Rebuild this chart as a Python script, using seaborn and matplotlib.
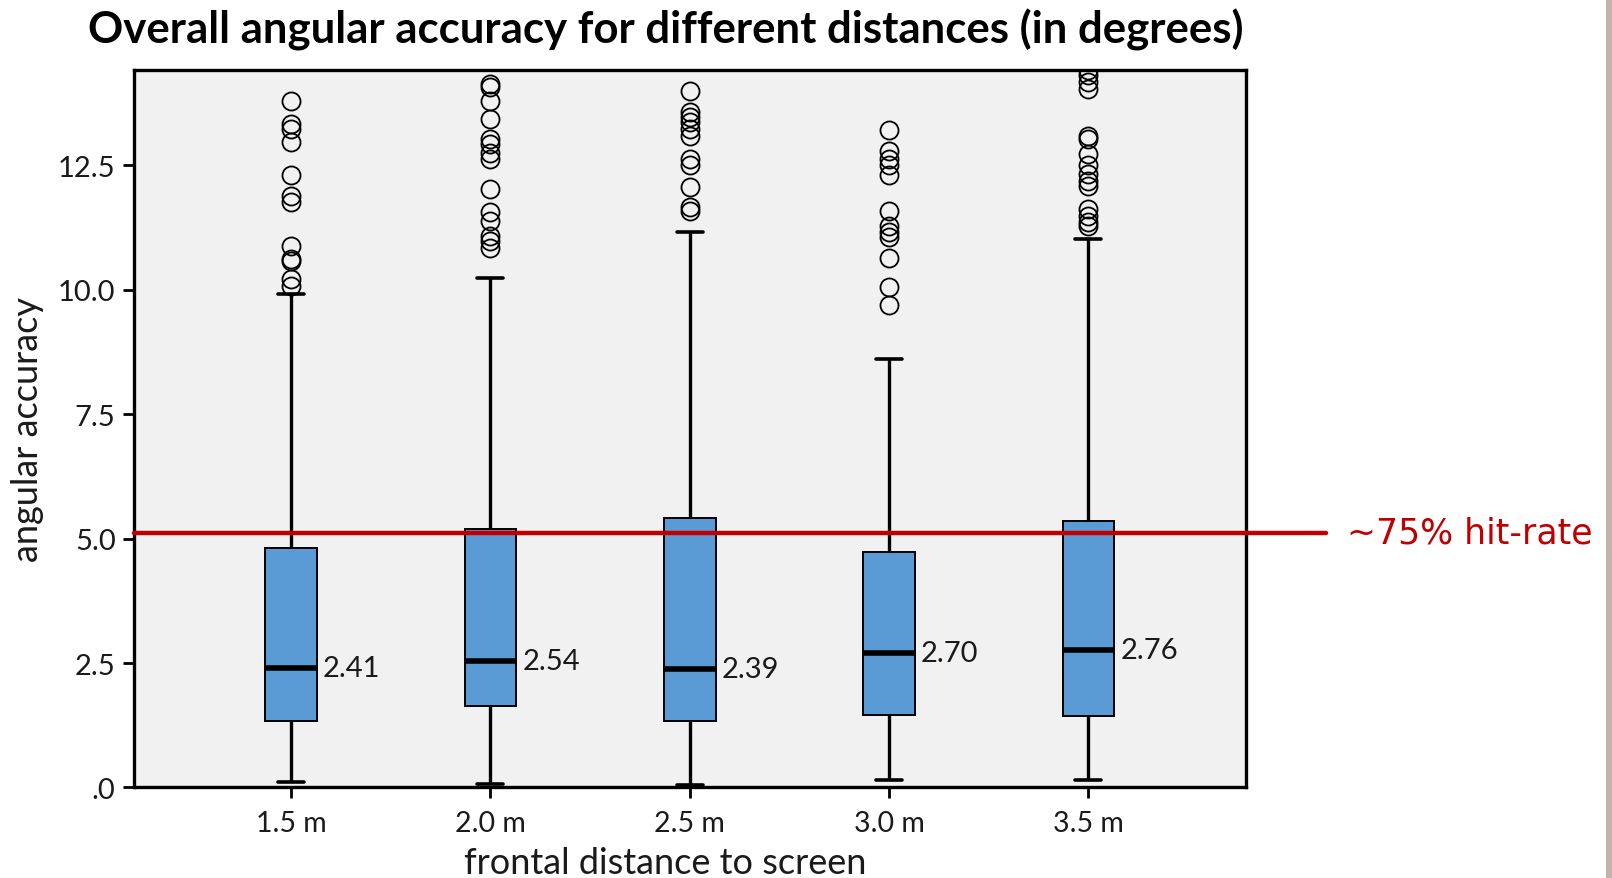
import numpy as np
import pandas as pd
import matplotlib
matplotlib.use("Agg")
import matplotlib.pyplot as plt
from matplotlib.ticker import FuncFormatter
from matplotlib.patches import Rectangle
import seaborn as sns

# ---- data ----
categories = ["1.5 m", "2.0 m", "2.5 m", "3.0 m", "3.5 m"]
whisker_low = [0.10, 0.07, 0.05, 0.14, 0.14]
q1 = [1.34, 1.64, 1.33, 1.46, 1.43]
median = [2.41, 2.54, 2.39, 2.70, 2.76]
q3 = [4.81, 5.19, 5.41, 4.74, 5.36]
whisker_high = [9.92, 10.23, 11.17, 8.61, 11.02]
outliers_15 = [13.79, 13.33, 13.23, 12.97, 12.30, 11.89, 11.76, 10.89, 10.62, 10.59, 10.22, 10.08]
outliers_20 = [14.14, 14.07, 13.80, 13.43, 13.03, 12.93, 12.76, 12.63, 12.03, 11.56, 11.39, 11.09, 10.99, 10.84]
outliers_25 = [13.99, 13.57, 13.47, 13.37, 13.23, 13.10, 12.64, 12.51, 12.06, 11.66, 11.58]
outliers_30 = [13.21, 12.80, 12.63, 12.50, 12.30, 11.59, 11.29, 11.16, 11.06, 10.64, 10.05, 9.70]
outliers_35 = [14.41, 14.31, 14.17, 14.04, 13.09, 13.03, 12.73, 12.50, 12.33, 12.19, 12.09, 11.63, 11.49, 11.36, 11.28]
outliers = [outliers_15, outliers_20, outliers_25, outliers_30, outliers_35]
hit_rate_value = 5.12
hit_rate_label = "~75% hit-rate"
y_ticks = [0, 2.5, 5.0, 7.5, 10.0, 12.5]

# ---- long-form table reproducing the five-number summaries ----
REP = 100
rows = []
for i, cat in enumerate(categories):
    vals = ([whisker_low[i]] + [q1[i]] * REP + [median[i]] * REP + [q3[i]] * REP
            + [whisker_high[i]] + list(outliers[i]))
    rows += [(cat, v) for v in vals]
df = pd.DataFrame(rows, columns=["distance", "accuracy"])

# ---- style ----
sns.set_style("ticks")
plt.rcParams["font.family"] = ["Lato", "DejaVu Sans"]

fig = plt.figure(figsize=(16.12, 8.79), dpi=100)
ax = fig.add_axes([0.0829, 0.103, 0.6900, 0.8163])
ax.set_facecolor("#F1F1F1")

box_w = 0.26
sns.boxplot(
    data=df, x="distance", y="accuracy", order=categories, ax=ax,
    color="#5B9BD5", saturation=1, width=box_w, whis=1.5,
    linecolor="black", linewidth=1.4, fliersize=13,
    medianprops=dict(linewidth=4.0, color="black"),
    whiskerprops=dict(linewidth=2.4, color="black"),
    capprops=dict(linewidth=2.6, color="black"),
    flierprops=dict(marker="o", markerfacecolor="none",
                    markeredgecolor="black", markeredgewidth=1.3),
)

for i, m in enumerate(median):
    ax.text(i + box_w / 2 + 0.03, m, f"{m:.2f}", va="center", ha="left",
            fontsize=21, color="#1a1a1a")

ax.set_xlim(-0.79, 4.79)
ax.set_ylim(0, 14.42)
ax.set_yticks(y_ticks)
ax.yaxis.set_major_formatter(FuncFormatter(lambda v, p: ".0" if v == 0 else f"{v:.1f}"))

for s in ax.spines.values():
    s.set_linewidth(2.4)
    s.set_color("black")
ax.tick_params(axis="y", length=8, width=2, labelsize=21, colors="black",
               labelcolor="#1a1a1a", pad=5)
ax.tick_params(axis="x", length=8, width=2, labelsize=20.5, colors="black",
               labelcolor="#1a1a1a", pad=8)

ax.set_xlabel("frontal distance to screen", fontsize=26, color="#1a1a1a")
ax.xaxis.set_label_coords(0.478, -0.082)
ax.set_ylabel("angular accuracy", fontsize=26, labelpad=10, color="#1a1a1a")
ax.set_title("Overall angular accuracy for different distances (in degrees)",
             fontsize=31.5, fontweight="bold", pad=20, color="black", x=0.478)

ax.axhline(hit_rate_value, xmin=0, xmax=1.072, color="#C00000", linewidth=3.2,
           clip_on=False, zorder=5)
ax.text(1.091, hit_rate_value, hit_rate_label, transform=ax.get_yaxis_transform(),
        va="center", ha="left", fontsize=25, color="#C00000", family="DejaVu Sans")

fig.patches.append(Rectangle((1606 / 1612, 0), 6 / 1612, 1, transform=fig.transFigure,
                             facecolor="#BEB6A6", edgecolor="none"))

fig.savefig("out.png", dpi=100)
